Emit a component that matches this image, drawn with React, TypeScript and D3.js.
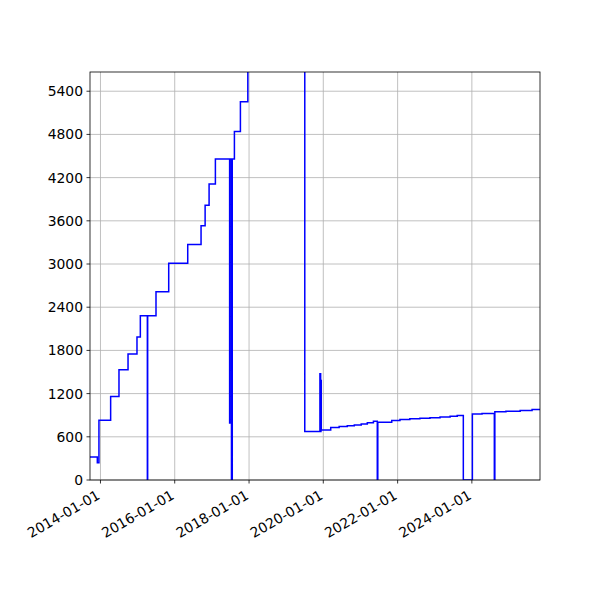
import React, { useEffect, useRef } from 'react';
import * as d3 from 'd3';

// step series (value holds from this date until the next one)
const dates = [
  '2013-09-20', '2013-12-01', '2013-12-17', '2014-04-11', '2014-07-02', '2014-09-29',
  '2014-12-26', '2015-01-28', '2015-04-07', '2015-04-10', '2015-07-01', '2015-11-03',
  '2016-05-08', '2016-09-16', '2016-10-26', '2016-12-04', '2017-02-04', '2017-06-24',
  '2017-06-27', '2017-07-12', '2017-07-20', '2017-08-10', '2017-10-08', '2017-12-20',
  '2018-06-01', '2019-07-03', '2019-11-29', '2019-12-06', '2019-12-09', '2019-12-12',
  '2020-03-14', '2020-06-05', '2020-08-24', '2020-11-01', '2021-01-08', '2021-03-09',
  '2021-05-08', '2021-06-15', '2021-06-20', '2021-11-04', '2022-01-24', '2022-05-01',
  '2022-08-08', '2022-11-15', '2023-02-22', '2023-06-01', '2023-08-10', '2023-10-09',
  '2024-01-06', '2024-04-10', '2024-08-09', '2024-08-14', '2024-12-01', '2025-04-20',
  '2025-08-15', '2025-11-01',
];
const values = [
  320, 240, 830, 1160, 1530, 1750,
  1985, 2280, 0, 2280, 2615, 3010,
  3270, 3530, 3815, 4110, 4460, 790,
  4460, 0, 4460, 4840, 5255, 6500,
  8000, 673, 1476, 673, 1383, 696,
  728, 742, 752, 765, 778, 795,
  815, 0, 803, 826, 840, 850,
  858, 866, 875, 885, 895, 0,
  915, 925, 0, 947, 955, 965,
  980, 985,
];

const yTicks = [0, 600, 1200, 1800, 2400, 3000, 3600, 4200, 4800, 5400];
const xTicks = ['2014-01-01', '2016-01-01', '2018-01-01', '2020-01-01', '2022-01-01', '2024-01-01'];

const App = () => {
  const svgRef = useRef(null);

  const width = 600;
  const height = 600;
  const left = 90;
  const right = 540;
  const top = 72;
  const bottom = 480;

  useEffect(() => {
    const parse = d3.utcParse('%Y-%m-%d');
    const data = dates.map((d, i) => ({ date: parse(d), value: values[i] }));

    const xScale = d3
      .scaleUtc()
      .domain([parse('2013-09-20'), parse('2025-11-01')])
      .range([left, right]);
    const yScale = d3.scaleLinear().domain([0, 5667]).range([bottom, top]);

    const svg = d3.select(svgRef.current);
    svg.selectAll('*').remove();

    svg
      .append('defs')
      .append('clipPath')
      .attr('id', 'plot-clip')
      .append('rect')
      .attr('x', left)
      .attr('y', top)
      .attr('width', right - left)
      .attr('height', bottom - top);

    // grid
    const grid = svg.append('g');
    xTicks.forEach((t) => {
      const x = xScale(parse(t));
      grid.append('line').attr('x1', x).attr('x2', x).attr('y1', top).attr('y2', bottom)
        .attr('stroke', '#b0b0b0').attr('stroke-width', 0.8);
    });
    yTicks.forEach((t) => {
      const y = yScale(t);
      grid.append('line').attr('x1', left).attr('x2', right).attr('y1', y).attr('y2', y)
        .attr('stroke', '#b0b0b0').attr('stroke-width', 0.8);
    });

    // line
    const line = d3
      .line<any>()
      .curve(d3.curveStepAfter)
      .x((d) => xScale(d.date))
      .y((d) => yScale(d.value));

    svg
      .append('path')
      .datum(data)
      .attr('clip-path', 'url(#plot-clip)')
      .attr('fill', 'none')
      .attr('stroke', 'blue')
      .attr('stroke-width', 1.5)
      .attr('stroke-linejoin', 'miter')
      .attr('d', line);

    // frame
    svg.append('rect')
      .attr('x', left).attr('y', top)
      .attr('width', right - left).attr('height', bottom - top)
      .attr('fill', 'none').attr('stroke', 'black').attr('stroke-width', 0.8);

    const font = 'DejaVu Sans, sans-serif';

    // y axis
    yTicks.forEach((t) => {
      const y = yScale(t);
      svg.append('line').attr('x1', left - 3.5).attr('x2', left).attr('y1', y).attr('y2', y)
        .attr('stroke', 'black').attr('stroke-width', 0.8);
      svg.append('text')
        .attr('x', left - 7)
        .attr('y', y)
        .attr('text-anchor', 'end')
        .attr('dominant-baseline', 'central')
        .style('font-family', font)
        .style('font-size', '13.9px')
        .text(String(t));
    });

    // x axis
    xTicks.forEach((t) => {
      const x = xScale(parse(t));
      svg.append('line').attr('x1', x).attr('x2', x).attr('y1', bottom).attr('y2', bottom + 3.5)
        .attr('stroke', 'black').attr('stroke-width', 0.8);
      svg.append('text')
        .attr('transform', `translate(${x + 0.5}, ${bottom + 18}) rotate(-30)`)
        .attr('text-anchor', 'end')
        .style('font-family', font)
        .style('font-size', '13.9px')
        .text(t);
    });
  }, []);

  return (
    <div style={{ position: 'absolute', left: 0, top: 0, background: 'white' }}>
      <svg ref={svgRef} width={width} height={height} />
    </div>
  );
};

export default App;
